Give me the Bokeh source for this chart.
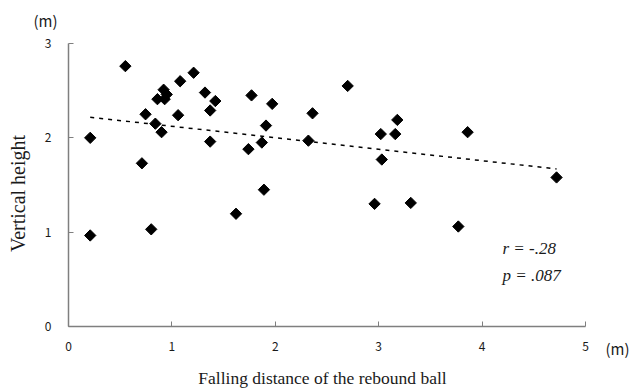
import numpy as np
from bokeh.plotting import figure
from bokeh.models import Range1d, Label, FixedTicker
from bokeh.embed import file_html
from bokeh.resources import INLINE

distance = [0.21, 0.21, 0.55, 0.71, 0.745, 0.86, 0.92, 0.95, 0.93, 0.84, 0.90,
            1.06, 1.08, 1.21, 1.32, 1.37, 1.37, 1.42, 0.80, 1.62, 1.74, 1.77,
            1.87, 1.91, 1.89, 1.97, 2.32, 2.36, 2.70, 2.96, 3.02, 3.03, 3.16,
            3.18, 3.31, 3.77, 3.86, 4.72]
height = [2.00, 0.965, 2.76, 1.73, 2.25, 2.41, 2.51, 2.46, 2.41, 2.15, 2.06,
          2.24, 2.60, 2.69, 2.48, 1.96, 2.29, 2.39, 1.03, 1.195, 1.88, 2.45,
          1.95, 2.13, 1.45, 2.36, 1.97, 2.26, 2.55, 1.30, 2.04, 1.77, 2.04,
          2.19, 1.31, 1.06, 2.06, 1.58]
x_ticks = [0, 1, 2, 3, 4, 5]
y_ticks = [0, 1, 2, 3]

slope, intercept = np.polyfit(distance, height, 1)
fit_x = [min(distance), max(distance)]
fit_y = [slope * v + intercept for v in fit_x]

W, H = 632, 392
# pixel positions of the axis ends (layout only)
X0_PX, X5_PX = 68, 585
Y0_PX, Y3_PX = 326, 43
xs = (X5_PX - X0_PX) / 5.0
ys = (Y0_PX - Y3_PX) / 3.0

p = figure(width=W, height=H, output_backend="svg", toolbar_location=None,
           x_range=Range1d(-X0_PX / xs, (W - X0_PX) / xs),
           y_range=Range1d(-(H - Y0_PX) / ys, Y0_PX / ys),
           min_border=0, min_border_left=0, min_border_right=0,
           min_border_top=0, min_border_bottom=0)
p.outline_line_color = None
p.xgrid.visible = False
p.ygrid.visible = False

p.line(fit_x, fit_y, line_color="black", line_width=1.5, line_dash="4 5")
p.scatter(distance, height, marker="square", size=8, angle=np.pi / 4,
          fill_color="black", line_color="black")

p.xaxis.fixed_location = 0
p.yaxis.fixed_location = 0
p.xaxis.bounds = (x_ticks[0], x_ticks[-1])
p.yaxis.bounds = (y_ticks[0], y_ticks[-1])

for ax in (p.xaxis[0], p.yaxis[0]):
    ax.axis_line_color = "#7f7f7f"
    ax.axis_line_width = 1.5
    ax.major_tick_line_color = "#7f7f7f"
    ax.major_tick_in = 5
    ax.major_tick_out = 0
    ax.minor_tick_line_color = None
    ax.major_label_text_font = "Noto Sans CJK JP"
    ax.major_label_text_font_size = "12px"
    ax.major_label_text_color = "#1a1a1a"

p.xaxis.ticker = FixedTicker(ticks=x_ticks)
p.yaxis.ticker = FixedTicker(ticks=y_ticks)
p.xaxis.major_label_standoff = 15
p.yaxis.major_label_standoff = 17


def add_text(txt, cx, cy, font, size, style="normal", align="center", angle=0.0):
    p.add_layout(Label(x=cx, y=H - cy, x_units="screen", y_units="screen", text=txt,
                       angle=angle, text_font=font, text_font_size=size,
                       text_font_style=style, text_align=align,
                       text_baseline="middle", text_color="#1a1a1a"))


add_text("Falling distance of the rebound ball", 322, 377, "Liberation Serif", "17.5px")
add_text("Vertical height", 17, 193, "Liberation Serif", "20px", angle=np.pi / 2)
add_text("(m)", 45, 20, "Noto Sans CJK JP", "15px")
add_text("(m)", 617, 348, "Noto Sans CJK JP", "15px")
add_text("r = -.28", 502, 248, "Liberation Serif", "17px", style="italic", align="left")
add_text("p = .087", 502, 275, "Liberation Serif", "17px", style="italic", align="left")

open("out.html", "w").write(file_html(p, INLINE))
